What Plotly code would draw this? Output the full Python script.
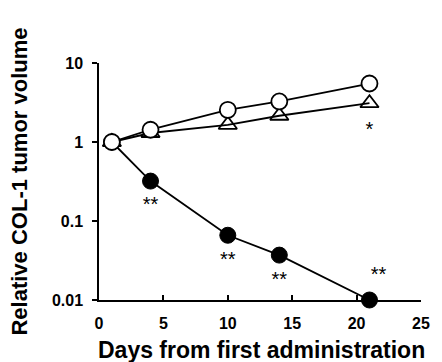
import plotly.graph_objects as go

days = [1, 4, 10, 14, 21]
control = [1.0, 1.43, 2.55, 3.26, 5.5]      # open circles
treat_a = [1.0, 1.3, 1.65, 2.15, 3.1]      # open triangles
treat_b = [1.0, 0.32, 0.066, 0.037, 0.01]  # filled circles

sig_x = [4, 10, 14, 21.7, 21]
sig_y = [0.155, 0.031, 0.0175, 0.02, 1.38]
sig_text = ["**", "**", "**", "**", "*"]

x_ticks = [0, 5, 10, 15, 20, 25]
y_ticks = [0.01, 0.1, 1, 10]
y_ticktext = ["0.01", "0.1", "1", "10"]

x_title = "Days from first administration"
y_title = "Relative COL-1 tumor volume"

FONT = "Liberation Sans"

fig = go.Figure()
fig.add_trace(go.Scatter(
    x=days, y=treat_a, mode="lines+markers", cliponaxis=False,
    line=dict(color="black", width=1.8),
    marker=dict(symbol="triangle-up-open", size=16, color="black",
                line=dict(width=1.8, color="black")),
    showlegend=False))
fig.add_trace(go.Scatter(
    x=days, y=treat_b, mode="lines+markers", cliponaxis=False,
    line=dict(color="black", width=1.8),
    marker=dict(symbol="circle", size=16, color="black",
                line=dict(width=1, color="black")),
    showlegend=False))
fig.add_trace(go.Scatter(
    x=days, y=control, mode="lines+markers", cliponaxis=False,
    line=dict(color="black", width=1.8),
    marker=dict(symbol="circle", size=16, color="white",
                line=dict(width=1.8, color="black")),
    showlegend=False))
fig.add_trace(go.Scatter(
    x=sig_x, y=sig_y, mode="text", text=sig_text, cliponaxis=False,
    textfont=dict(family=FONT, size=20, color="black"),
    showlegend=False))

fig.add_annotation(
    text="<b>" + x_title + "</b>", xref="paper", yref="paper",
    x=0.505, y=0, xanchor="center", yanchor="middle", yshift=-50,
    showarrow=False, font=dict(family=FONT, size=23, color="black"))

fig.update_layout(
    width=442, height=362,
    margin=dict(l=99, r=12, t=63, b=62),
    paper_bgcolor="white", plot_bgcolor="white",
    font=dict(family=FONT, color="black"),
    xaxis=dict(
        range=[0, 25], tickvals=x_ticks, showgrid=False, zeroline=False,
        showline=True, linecolor="black", linewidth=1.5,
        ticks="inside", ticklen=5, tickwidth=1.5, tickcolor="black",
        ticklabelstandoff=8,
        tickfont=dict(family=FONT, size=16, color="black", weight="bold"),
    ),
    yaxis=dict(
        type="log", range=[-2, 1], tickvals=y_ticks, ticktext=y_ticktext,
        showgrid=False, zeroline=False,
        showline=True, linecolor="black", linewidth=1.5,
        ticks="outside", ticklen=5, tickwidth=1.5, tickcolor="black",
        ticklabelstandoff=6,
        tickfont=dict(family=FONT, size=16, color="black", weight="bold"),
        title=dict(text="<b>" + y_title + "</b>",
                   font=dict(family=FONT, size=22, color="black"), standoff=18),
    ),
)

fig.write_html("out.html",
               config={"displayModeBar": False},
               post_script="document.body.style.margin='0';"
                           "document.body.style.overflow='hidden';")
